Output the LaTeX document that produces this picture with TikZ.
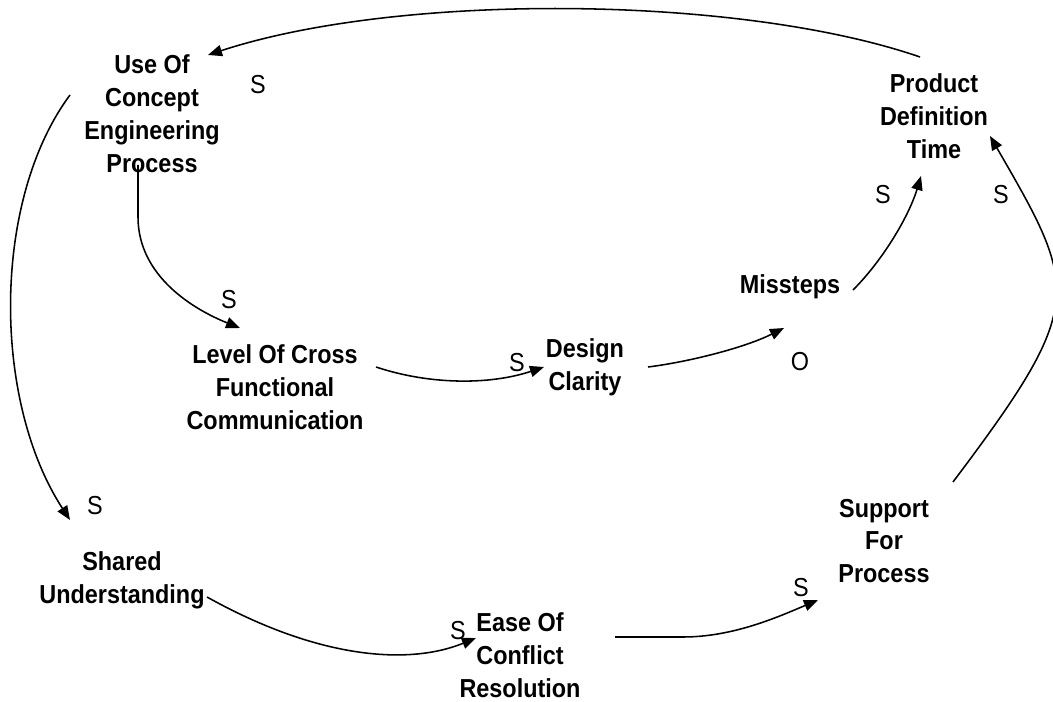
\documentclass[tikz,border=0pt]{standalone}
\usepackage{fontspec}
\setmainfont{Liberation Sans}
\newfontfamily\boxfont{Liberation Sans}[FakeStretch=0.9]
\usetikzlibrary{arrows.meta}
\tikzset{
  var/.style={align=center, inner sep=1pt, font=\boxfont\bfseries\fontsize{18.5}{23.4}\selectfont},
  sign/.style={inner sep=0pt, font=\boxfont\fontsize{18.5}{22}\selectfont},
  link/.style={-{Triangle[length=10pt,width=8pt]}, line width=1.1pt}
}

\begin{document}
\begin{tikzpicture}[x=0.025cm, y=-0.025cm]
  \useasboundingbox (0,0) rectangle (1053,702);
  % variables
  \node[var] (use) at (152,114) {Use Of\\Concept\\Engineering\\Process};
  \node[var] (prod) at (934,116) {Product\\Definition\\Time};
  \node[var] (level) at (275,387) {Level Of Cross\\Functional\\Communication};
  \node[var] (design) at (585,367) {Design\\Clarity};
  \node[var] (miss) at (790,287) {Missteps};
  \node[var] (shared) at (122,580) {Shared\\Understanding};
  \node[var] (ease) at (520,655) {Ease Of\\Conflict\\Resolution};
  \node[var] (support) at (884,541) {Support\\For\\Process};

  % signs
  \node[sign] (s-use) at (258,85) {S};
  \node[sign] (s-level) at (229,300) {S};
  \node[sign] (s-design) at (517,363) {S};
  \node[sign] (s-miss) at (800,362) {O};
  \node[sign] (s-prod-a) at (883,195) {S};
  \node[sign] (s-prod-b) at (1001,195) {S};
  \node[sign] (s-shared) at (95,506) {S};
  \node[sign] (s-ease) at (458,631) {S};
  \node[sign] (s-support) at (801,588) {S};

  % links
  \draw[link] ([shift={(-14,-59)}]prod.center) .. controls +(-180,-62) and +(192,-63) .. ([shift={(56,-59)}]use.center);
  \draw[link] ([shift={(-82,-19)}]use.center) .. controls +(-78,105) and +(-78,-120) .. ([shift={(-52,-60)}]shared.center);
  \draw[link] ([shift={(-14,51)}]use.center) -- ++(0,52) .. controls +(0,60) and +(-45,-18) .. ([shift={(-35,-59)}]level.center);
  \draw[link] ([shift={(101,-20)}]level.center) .. controls +(54,18) and +(-54,18) .. ([shift={(-41,0)}]design.center);
  \draw[link] ([shift={(63,0)}]design.center) .. controls +(40,-5) and +(-40,20) .. ([shift={(-6,41)}]miss.center);
  \draw[link] ([shift={(63,3)}]miss.center) .. controls +(30,-30) and +(-12,40) .. ([shift={(-13,60)}]prod.center);
  \draw[link] ([shift={(69,-59)}]support.center) .. controls +(134,-178) and +(89,154) .. ([shift={(56,20)}]prod.center);
  \draw[link] ([shift={(85,17)}]shared.center) .. controls +(113,63) and +(-66,27) .. ([shift={(-44,-17)}]ease.center);
  \draw[link] ([shift={(95,-18)}]ease.center) -- ++(68,0) .. controls +(50,0) and +(-40,17) .. ([shift={(-66,59)}]support.center);
\end{tikzpicture}
\end{document}
